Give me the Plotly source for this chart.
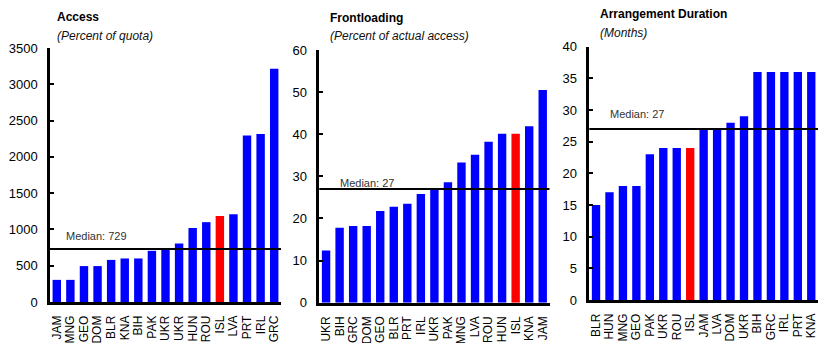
import plotly.graph_objects as go

W, H = 818, 343

# Panel 1: access, percent of quota
access_countries = ["JAM", "MNG", "GEO", "DOM", "BLR", "KNA", "BIH", "PAK", "UKR",
                    "UKR", "HUN", "ROU", "ISL", "LVA", "PRT", "IRL", "GRC"]
access_values = [305, 305, 495, 495, 580, 600, 600, 705, 729,
                 806, 1020, 1100, 1185, 1210, 2295, 2315, 3215]
access_median = 729

# Panel 2: frontloading, percent of actual access
front_countries = ["UKR", "BIH", "GRC", "DOM", "GEO", "BLR", "PRT", "IRL", "UKR",
                   "PAK", "MNG", "LVA", "ROU", "HUN", "ISL", "KNA", "JAM"]
front_values = [12.4, 17.8, 18.2, 18.2, 21.8, 22.8, 23.5, 25.8, 27.2,
                28.6, 33.3, 35.1, 38.2, 40.1, 40.1, 41.9, 50.5]
front_median = 27

# Panel 3: arrangement duration, months
dur_countries = ["BLR", "HUN", "MNG", "GEO", "PAK", "UKR", "ROU", "ISL", "JAM",
                 "LVA", "DOM", "UKR", "BIH", "GRC", "IRL", "PRT", "KNA"]
dur_values = [15, 17, 18, 18, 23, 24, 24, 24, 27,
              27, 28, 29, 36, 36, 36, 36, 36]
dur_median = 27

highlight = "ISL"

panels = [
    dict(countries=access_countries, values=access_values, median=access_median,
         median_text="Median: 729", title="Access", subtitle="(Percent of quota)",
         xpx=(50, 281), ypx=(48, 302), yrange=(0, 3500), dtick=500,
         title_x=55, title_y=17, sub_y=36, med_x=64, med_y=236),
    dict(countries=front_countries, values=front_values, median=front_median,
         median_text="Median: 27", title="Frontloading", subtitle="(Percent of actual access)",
         xpx=(319.3, 549.5), ypx=(50, 302.7), yrange=(0, 60), dtick=10,
         title_x=328, title_y=18, sub_y=36, med_x=338, med_y=183),
    dict(countries=dur_countries, values=dur_values, median=dur_median,
         median_text="Median: 27", title="Arrangement Duration", subtitle="(Months)",
         xpx=(589.3, 818), ypx=(46.7, 300), yrange=(0, 40), dtick=5,
         title_x=598, title_y=14, sub_y=33, med_x=608, med_y=113.5),
]

FONT = "Liberation Sans, Arial, sans-serif"
NARROW = "Liberation Sans Narrow, Arial Narrow, Liberation Sans, sans-serif"
BLUE = "#0000FF"
RED = "#FF0000"

fig = go.Figure()
annotations = []
shapes = []

for i, p in enumerate(panels, start=1):
    xa = "x" if i == 1 else f"x{i}"
    ya = "y" if i == 1 else f"y{i}"
    xs = list(range(len(p["countries"])))
    colors = [RED if c == highlight else BLUE for c in p["countries"]]
    fig.add_trace(go.Bar(
        x=xs, y=p["values"], marker=dict(color=colors, line=dict(width=0)),
        xaxis=xa, yaxis=ya, showlegend=False, hoverinfo="skip",
    ))

    x0, x1 = p["xpx"]
    ytop, ybot = p["ypx"]
    xkey = "xaxis" if i == 1 else f"xaxis{i}"
    ykey = "yaxis" if i == 1 else f"yaxis{i}"
    fig.update_layout(**{
        xkey: dict(
            domain=[x0 / W, min(x1 / W, 1.0)], anchor=ya,
            range=[-0.5, len(xs) - 0.5],
            tickmode="array", tickvals=xs, ticktext=p["countries"],
            tickangle=-90, ticks="", ticklabelstandoff=6,
            ticklabeloverflow="allow",
            tickfont=dict(family=FONT, size=12, color="black"),
            showline=True, linecolor="black", linewidth=2.5,
            showgrid=False, zeroline=False, automargin=False, fixedrange=True,
        ),
        ykey: dict(
            domain=[1 - ybot / H, 1 - ytop / H], anchor=xa,
            range=list(p["yrange"]), dtick=p["dtick"], tick0=0,
            ticks="inside", ticklen=4, tickwidth=2, tickcolor="black",
            ticklabelstandoff=7,
            tickfont=dict(family=NARROW, size=13, color="black"),
            showline=True, linecolor="black", linewidth=2.5,
            showgrid=False, zeroline=False, automargin=False, fixedrange=True,
        ),
    })

    # median reference line across the panel
    shapes.append(dict(
        type="line", xref=f"{xa} domain", yref=ya,
        x0=0, x1=1, y0=p["median"], y1=p["median"],
        line=dict(color="black", width=2),
    ))

    annotations.append(dict(
        text=p["median_text"], xref="paper", yref="paper",
        x=p["med_x"] / W, y=1 - p["med_y"] / H, xanchor="left", yanchor="middle",
        showarrow=False, font=dict(family=FONT, size=11, color="#333333"),
    ))
    annotations.append(dict(
        text=f"<b>{p['title']}</b>", xref="paper", yref="paper",
        x=p["title_x"] / W, y=1 - p["title_y"] / H, xanchor="left", yanchor="middle",
        showarrow=False, font=dict(family=FONT, size=12, color="black"),
    ))
    annotations.append(dict(
        text=f"<i>{p['subtitle']}</i>", xref="paper", yref="paper",
        x=p["title_x"] / W, y=1 - p["sub_y"] / H, xanchor="left", yanchor="middle",
        showarrow=False, font=dict(family=FONT, size=12, color="#111111"),
    ))

fig.update_layout(
    width=W, height=H,
    margin=dict(l=0, r=0, t=0, b=0),
    paper_bgcolor="white", plot_bgcolor="white",
    bargap=0.38,
    annotations=annotations, shapes=shapes,
    template="none",
)

fig.write_html("out.html", config={"displayModeBar": False})
